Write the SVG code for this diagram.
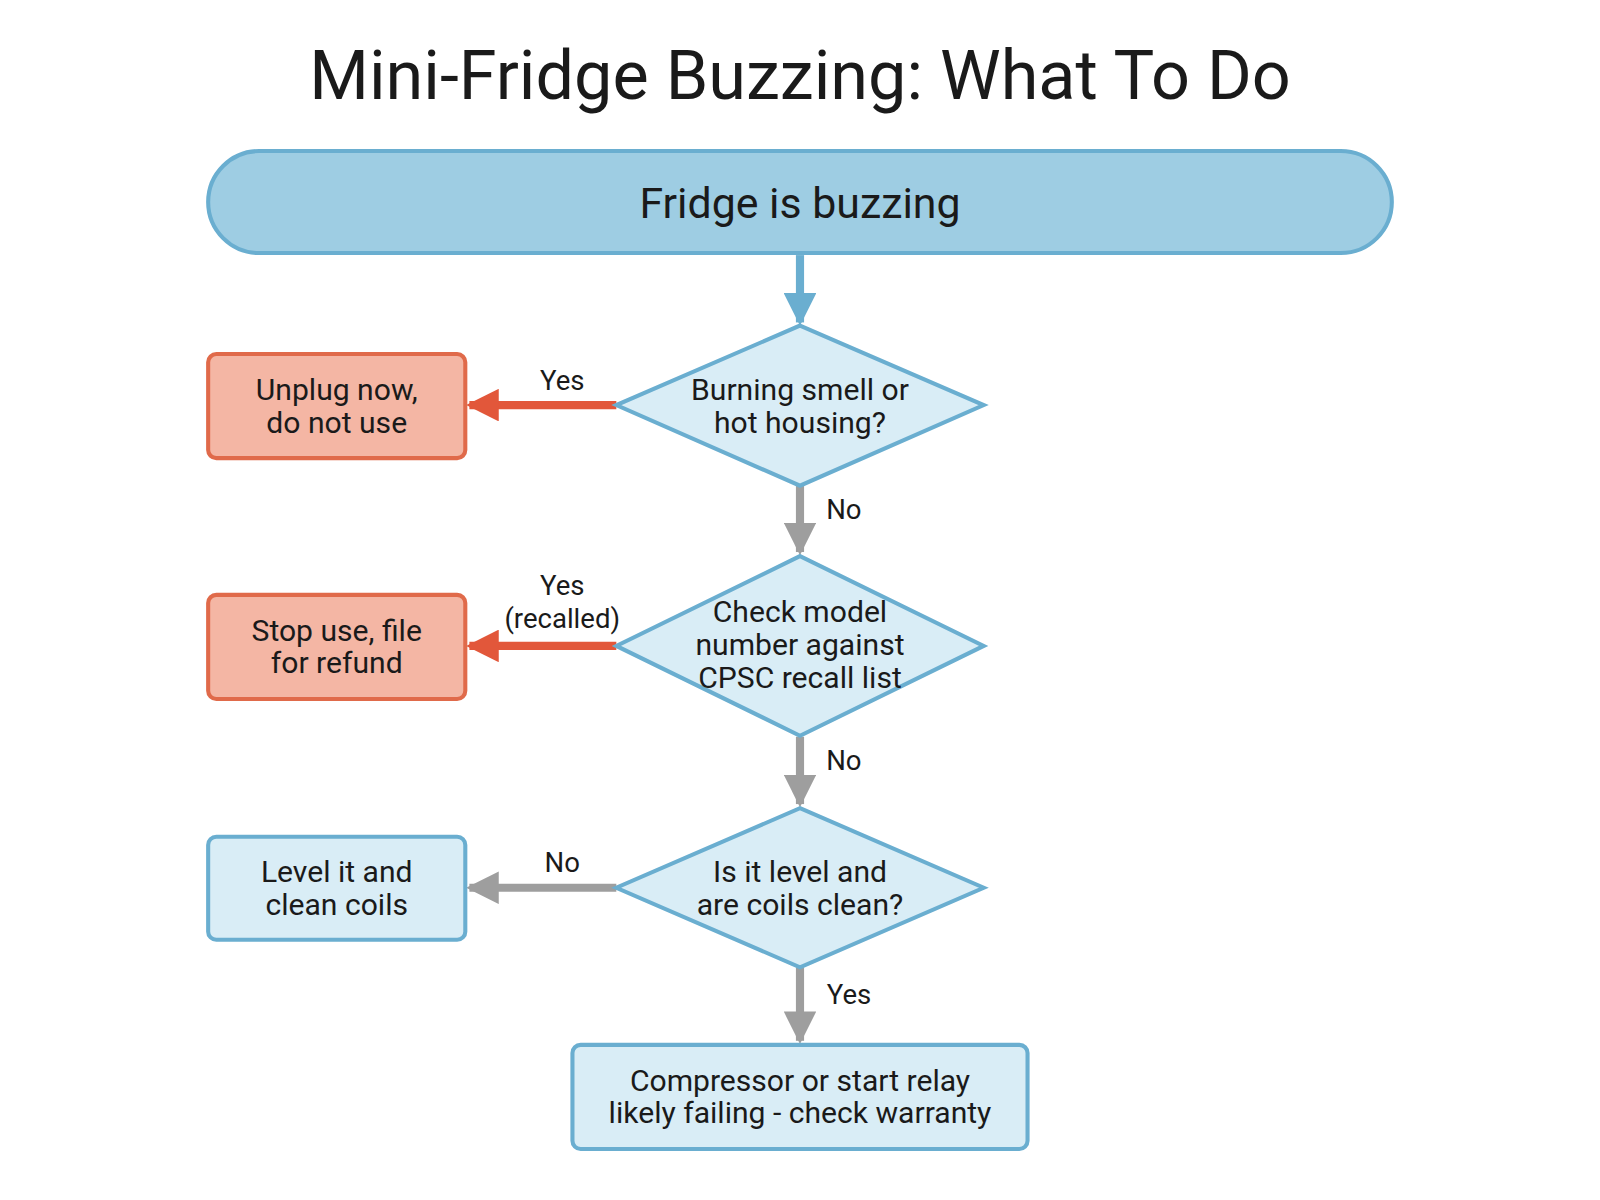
<svg xmlns="http://www.w3.org/2000/svg" width="1600" height="1200" viewBox="0 0 1600 1200">
<defs>
<style>
text{font-family:"Roboto","Liberation Sans",sans-serif;fill:#1a1a1a;text-anchor:middle}
.t{font-size:29.5px}
.l{font-size:27px}
.blue{fill:#d9edf6;stroke:#6aaed0;stroke-width:4}
.red{fill:#f4b6a4;stroke:#e06a4a;stroke-width:4}
.cg{stroke:#9e9e9e;stroke-width:8;fill:none}
.cr{stroke:#e2573a;stroke-width:8;fill:none}
.cb{stroke:#6aaed0;stroke-width:8;fill:none}
</style>
<marker id="ag" viewBox="0 0 10 10" refX="9" refY="5" markerWidth="4" markerHeight="4" orient="auto" markerUnits="strokeWidth"><path d="M0,0L10,5L0,10z" fill="#9e9e9e"/></marker>
<marker id="ar" viewBox="0 0 10 10" refX="9" refY="5" markerWidth="4" markerHeight="4" orient="auto" markerUnits="strokeWidth"><path d="M0,0L10,5L0,10z" fill="#e2573a"/></marker>
<marker id="ab" viewBox="0 0 10 10" refX="9" refY="5" markerWidth="4" markerHeight="4" orient="auto" markerUnits="strokeWidth"><path d="M0,0L10,5L0,10z" fill="#6aaed0"/></marker>
</defs>
<rect width="1600" height="1200" fill="#fff"/>
<g transform="scale(1.0204)">
<text x="784" y="97" style="font-size:67px;font-weight:400">Mini-Fridge Buzzing: What To Do</text>
<g id="connectors">
<line class="cb" x1="784" y1="250" x2="784" y2="316" marker-end="url(#ab)"/>
<line class="cr" x1="604" y1="397" x2="460" y2="397" marker-end="url(#ar)"/>
<text class="l" x="551" y="382">Yes</text>
<line class="cg" x1="784" y1="476" x2="784" y2="541" marker-end="url(#ag)"/>
<text class="l" x="827" y="509">No</text>
<line class="cr" x1="604" y1="633" x2="460" y2="633" marker-end="url(#ar)"/>
<text class="l" x="551" y="583">Yes</text>
<text class="l" x="551" y="615">(recalled)</text>
<line class="cg" x1="784" y1="722" x2="784" y2="788" marker-end="url(#ag)"/>
<text class="l" x="827" y="755">No</text>
<line class="cg" x1="604" y1="870" x2="460" y2="870" marker-end="url(#ag)"/>
<text class="l" x="551" y="855">No</text>
<line class="cg" x1="784" y1="948" x2="784" y2="1020" marker-end="url(#ag)"/>
<text class="l" x="832" y="984">Yes</text>
</g>
<g id="start"><rect x="204" y="148" width="1160" height="100" rx="50" fill="#9ecde3" stroke="#6aaed0" stroke-width="4"/><text x="784" y="214" style="font-size:42px">Fridge is buzzing</text></g>
<g id="d1"><polygon class="blue" points="784,319 964,397 784,476 604,397"/><text class="t" x="784" y="392">Burning smell or</text><text class="t" x="784" y="424">hot housing?</text></g>
<g id="unplug"><rect class="red" x="204" y="347" width="252" height="102" rx="8"/><text class="t" x="330" y="392">Unplug now,</text><text class="t" x="330" y="424">do not use</text></g>
<g id="d2"><polygon class="blue" points="784,545 964,633 784,721 604,633"/><text class="t" x="784" y="610">Check model</text><text class="t" x="784" y="642">number against</text><text class="t" x="784" y="674">CPSC recall list</text></g>
<g id="stop"><rect class="red" x="204" y="583" width="252" height="102" rx="8"/><text class="t" x="330" y="628">Stop use, file</text><text class="t" x="330" y="660">for refund</text></g>
<g id="d3"><polygon class="blue" points="784,792 964,870 784,948 604,870"/><text class="t" x="784" y="864">Is it level and</text><text class="t" x="784" y="897">are coils clean?</text></g>
<g id="level"><rect class="blue" x="204" y="820" width="252" height="101" rx="8"/><text class="t" x="330" y="864">Level it and</text><text class="t" x="330" y="897">clean coils</text></g>
<g id="comp"><rect class="blue" x="561" y="1024" width="446" height="102" rx="8"/><text class="t" x="784" y="1069">Compressor or start relay</text><text class="t" x="784" y="1101">likely failing - check warranty</text></g>
</g>
</svg>
